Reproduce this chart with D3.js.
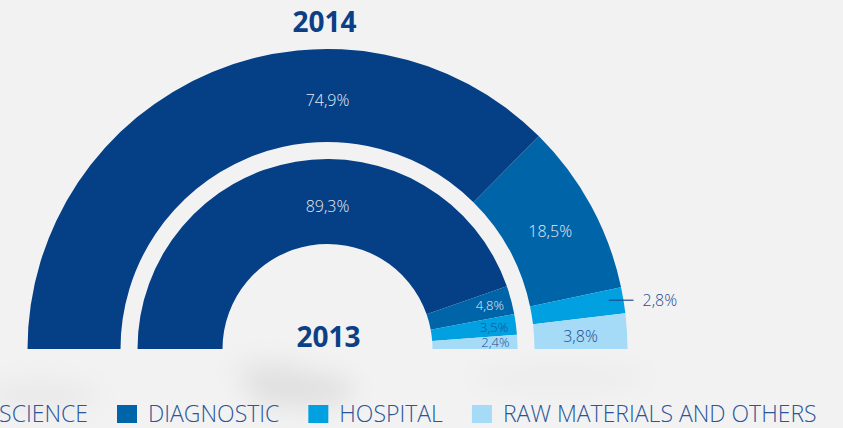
<!DOCTYPE html>
<html>
<head>
<meta charset="utf-8">
<script src="https://cdn.jsdelivr.net/npm/d3@7"></script>
<style>
  html, body { margin: 0; padding: 0; background: #f2f2f2; }
  svg { display: block; font-family: "Open Sans", "DejaVu Sans", sans-serif; }
</style>
</head>
<body>
<div id="chart"></div>
<script>
// data
const categories = ["LIFE SCIENCE", "DIAGNOSTIC", "HOSPITAL", "RAW MATERIALS AND OTHERS"];
const years = ["2014", "2013"];
const values2014 = [74.9, 18.5, 2.8, 3.8];
const values2013 = [89.3, 4.8, 3.5, 2.4];

const width = 843;
const height = 428;
const cx = 327.5, cy = 349;

const color = d3.scaleOrdinal()
  .domain(categories)
  .range(["#053f86", "#0064a9", "#00a0e1", "#a5dbf6"]);

// light text on the two dark slices, navy text on the bright ones
const textColor = d3.scaleOrdinal()
  .domain(categories)
  .range(["#e4e9f1", "#e4e9f1", "#1f4c8f", "#1f4c8f"]);

const fmt = v => d3.format(".1f")(v).replace(".", ",") + "%";

const svg = d3.select("#chart")
  .append("svg")
  .attr("width", width)
  .attr("height", height);

// soft cloud in the background
const defs = svg.append("defs");
defs.append("filter").attr("id", "blur")
  .attr("x", "-50%").attr("y", "-50%").attr("width", "200%").attr("height", "200%")
  .append("feGaussianBlur").attr("stdDeviation", 12);

const clouds = svg.append("g").attr("filter", "url(#blur)");
clouds.append("ellipse").attr("cx", 300).attr("cy", 390).attr("rx", 55).attr("ry", 18)
  .attr("fill", "#d2d2d2").attr("opacity", 0.55);
clouds.append("ellipse").attr("cx", 268).attr("cy", 372).attr("rx", 35).attr("ry", 12)
  .attr("fill", "#dedede").attr("opacity", 0.6);
clouds.append("ellipse").attr("cx", 40).attr("cy", 395).attr("rx", 60).attr("ry", 15)
  .attr("fill", "#e2e2e2").attr("opacity", 0.5);
clouds.append("ellipse").attr("cx", 560).attr("cy", 378).attr("rx", 90).attr("ry", 14)
  .attr("fill", "#e8e8e8").attr("opacity", 0.5);

const pie = d3.pie()
  .sort(null)
  .startAngle(-Math.PI / 2)
  .endAngle(Math.PI / 2);

// ring settings per year
const rings = [
  { year: "2014", values: values2014, inner: 207, outer: 300, smallR: 253, titleY: 32, titleX: 324.5 },
  { year: "2013", values: values2013, inner: 105, outer: 190, smallR: 168, titleY: 347, titleX: 328.5 }
];

const g = svg.append("g").attr("transform", `translate(${cx},${cy})`);

rings.forEach(ring => {
  const arcs = pie(ring.values).map((a, i) => Object.assign(a, { key: categories[i] }));

  const arc = d3.arc().innerRadius(ring.inner).outerRadius(ring.outer);
  const midR = (ring.inner + ring.outer) / 2;

  g.append("g")
    .selectAll("path")
    .data(arcs)
    .join("path")
    .attr("d", arc)
    .attr("fill", d => color(d.key));

  const labels = g.append("g")
    .selectAll("g")
    .data(arcs)
    .join("g");

  labels.each(function(d) {
    const sel = d3.select(this);
    const mid = (d.startAngle + d.endAngle) / 2;
    const bigSlice = d.startAngle < 0 && d.endAngle > 0;

    if (bigSlice) {
      // big slice: label sits on top of the ring
      sel.append("text")
        .attr("x", 0).attr("y", -midR + 5)
        .attr("dy", "0.35em")
        .attr("text-anchor", "middle")
        .attr("font-size", 16).attr("font-weight", 300)
        .attr("fill", textColor(d.key))
        .text(fmt(d.value));
    } else if (ring.year === "2014" && d.value < 3) {
      // thin outer slice: label outside with a short leader
      const r0 = ring.outer - 15;
      const y0 = -Math.cos(mid) * ring.outer;
      const xEdge = Math.sin(mid) * ring.outer;
      sel.append("line")
        .attr("x1", Math.sin(mid) * r0).attr("x2", xEdge + 10)
        .attr("y1", y0).attr("y2", y0)
        .attr("stroke", "#1f4c8f").attr("stroke-width", 1.2);
      sel.append("text")
        .attr("x", xEdge + 19).attr("y", y0)
        .attr("dy", "0.35em")
        .attr("font-size", 16).attr("font-weight", 300)
        .attr("fill", "#1f4c8f")
        .text(fmt(d.value));
    } else {
      const small = ring.year === "2013";
      const r = small ? ring.smallR : midR;
      sel.append("text")
        .attr("x", Math.sin(mid) * r)
        .attr("y", -Math.cos(mid) * r + (small ? 0 : 3))
        .attr("dy", "0.35em")
        .attr("text-anchor", "middle")
        .attr("font-size", small ? 13 : 16).attr("font-weight", 300)
        .attr("fill", textColor(d.key))
        .text(fmt(d.value));
    }
  });

  // year title
  svg.append("text")
    .attr("x", ring.titleX)
    .attr("y", ring.titleY)
    .attr("text-anchor", "middle")
    .attr("font-size", 28)
    .attr("font-weight", 700)
    .attr("fill", "#0b3f86")
    .text(ring.year);
});

// legend
const legend = svg.append("g");
const items = legend.selectAll("g")
  .data(categories)
  .join("g");

items.append("rect")
  .attr("width", 20)
  .attr("height", 18)
  .attr("y", 405)
  .attr("fill", d => color(d));

items.append("text")
  .attr("x", 31)
  .attr("y", 422)
  .attr("font-size", 23)
  .attr("font-weight", 300)
  .attr("fill", "#2a5597")
  .text(d => d);

// chain legend items from left to right
const widths = [];
items.selectAll("text").each(function() { widths.push(this.getComputedTextLength()); });
let x = 88 - widths[0] - 31;
items.each(function(d, i) {
  d3.select(this).attr("transform", `translate(${x},0)`);
  x += 31 + widths[i] + 29;
});
</script>
</body>
</html>
